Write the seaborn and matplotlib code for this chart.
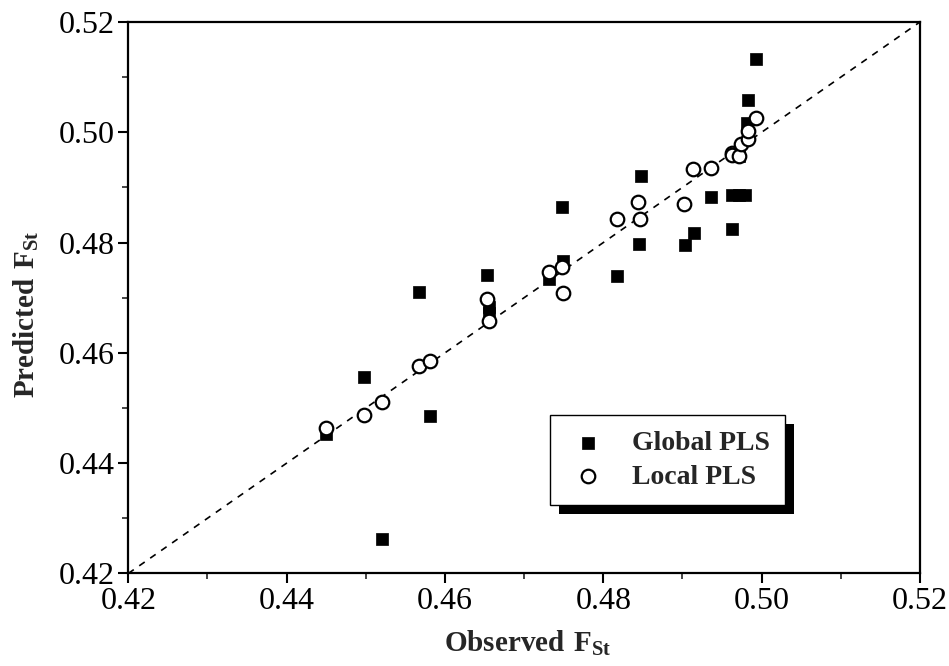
import matplotlib
matplotlib.use("Agg")
import matplotlib.pyplot as plt
import matplotlib.patheffects as pe
import numpy as np
import pandas as pd
import seaborn as sns

# observed vs predicted F_St values
global_obs = [0.4450, 0.4498, 0.4521, 0.4567, 0.4581, 0.4653, 0.4655, 0.4655,
              0.4732, 0.4749, 0.4748, 0.4817, 0.4845, 0.4847, 0.4903, 0.4915,
              0.4936, 0.4963, 0.4962, 0.4972, 0.4979, 0.4993, 0.4983, 0.4981,
              0.4972]
global_pred = [0.4453, 0.4556, 0.4263, 0.4711, 0.4485, 0.4742, 0.4683, 0.4672,
               0.4734, 0.4767, 0.4865, 0.4739, 0.4797, 0.4921, 0.4796, 0.4818,
               0.4882, 0.4824, 0.4887, 0.4887, 0.4887, 0.5132, 0.5058, 0.5017,
               0.4957]
local_obs = [0.4450, 0.4498, 0.4520, 0.4567, 0.4581, 0.4653, 0.4656, 0.4732,
             0.4748, 0.4749, 0.4817, 0.4844, 0.4846, 0.4902, 0.4913, 0.4936,
             0.4962, 0.4963, 0.4972, 0.4974, 0.4983, 0.4983, 0.4993]
local_pred = [0.4464, 0.4488, 0.4511, 0.4577, 0.4586, 0.4698, 0.4657, 0.4746,
              0.4755, 0.4709, 0.4843, 0.4873, 0.4843, 0.4870, 0.4934, 0.4936,
              0.4963, 0.4958, 0.4957, 0.4978, 0.4987, 0.5002, 0.5025]
ticks = [0.42, 0.44, 0.46, 0.48, 0.50, 0.52]

sns.set_theme(style="ticks")
plt.rcParams['font.family'] = ['Liberation Serif', 'DejaVu Serif']
plt.rcParams['mathtext.fontset'] = 'custom'
plt.rcParams['mathtext.rm'] = 'Liberation Serif'
plt.rcParams['mathtext.bf'] = 'Liberation Serif:bold'

df_g = pd.DataFrame({"obs": global_obs, "pred": global_pred})
df_l = pd.DataFrame({"obs": local_obs, "pred": local_pred})

fig = plt.figure(figsize=(9.49, 6.66), dpi=100)
ax = fig.add_axes([0.1352, 0.139, 0.8342, 0.828])

# 1:1 line
ax.plot([0.42, 0.52], [0.42, 0.52], color="black", ls=(0, (4, 4)), lw=1.2, zorder=1)

sns.scatterplot(data=df_g, x="obs", y="pred", ax=ax, marker="s", s=85,
                color="black", edgecolor="black", linewidth=0.5,
                label="Global PLS", zorder=2)
sns.scatterplot(data=df_l, x="obs", y="pred", ax=ax, marker="o", s=95,
                facecolor="white", edgecolor="black", linewidth=1.6,
                label="Local PLS", zorder=3)

ax.set_xlim(0.42, 0.52)
ax.set_ylim(0.42, 0.52)
ax.set_xticks(ticks)
ax.set_yticks(ticks)
ax.set_xticklabels([f"{t:.2f}" for t in ticks])
ax.set_yticklabels([f"{t:.2f}" for t in ticks])
ax.set_xticks([0.43, 0.45, 0.47, 0.49, 0.51], minor=True)
ax.set_yticks([0.43, 0.45, 0.47, 0.49, 0.51], minor=True)
ax.tick_params(which="major", direction="out", length=7, width=1.5,
               labelsize=23, colors="black", pad=3)
ax.tick_params(which="minor", direction="out", length=4, width=1.2)
for s in ax.spines.values():
    s.set_linewidth(1.6)
    s.set_color("black")

ax.set_xlabel(r"$\mathbf{Observed\ F_{St}}$", fontsize=21)
ax.set_ylabel(r"$\mathbf{Predicted\ F_{St}}$", fontsize=21)
ax.xaxis.set_label_coords(0.505, -0.1)
ax.yaxis.set_label_coords(-0.11, 0.47)

leg = ax.legend(loc="lower left", bbox_to_anchor=(0.5327, 0.124),
                borderaxespad=0, fancybox=False, frameon=True,
                prop={"weight": "bold", "size": 20}, handletextpad=0.8,
                borderpad=0.55, labelspacing=0.3, handlelength=1.6)
frame = leg.get_frame()
frame.set_edgecolor("black")
frame.set_linewidth(1.0)
frame.set_alpha(1)
frame.set_path_effects([pe.SimplePatchShadow(offset=(6.5, -6.5), shadow_rgbFace="black", alpha=1),
                        pe.Normal()])

fig.savefig("out.png", dpi=100)
